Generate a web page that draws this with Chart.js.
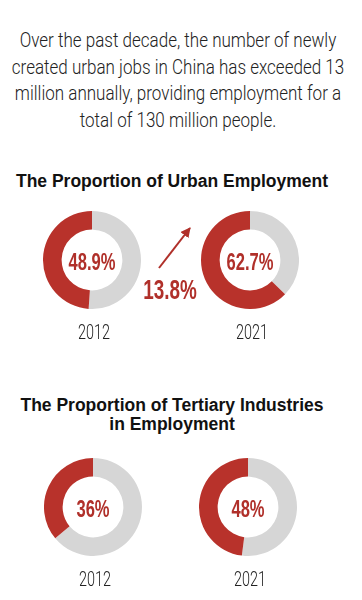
<!DOCTYPE html>
<html>
<head>
<meta charset="utf-8">
<script src="https://cdn.jsdelivr.net/npm/chart.js@4"></script>
<style>
  html, body { margin: 0; padding: 0; background: #fff; }
  #page { position: relative; width: 362px; height: 600px; overflow: hidden; }
  .abs { position: absolute; }
  .line {
    left: 178px; white-space: nowrap;
    font-family: Roboto, 'Liberation Sans', sans-serif; font-weight: 300;
    font-size: 20.5px; line-height: 26.5px; color: #222;
    transform: translateX(-50%) scaleX(0.83);
  }
  .title {
    left: -9px; width: 362px; text-align: center;
    font-family: 'Liberation Sans', Arial, sans-serif; font-weight: bold;
    font-size: 17.5px; line-height: 19px; color: #111;
  }
  .pct, .year {
    text-align: center; white-space: nowrap;
    font-family: 'Liberation Sans', Arial, sans-serif;
  }
  .pct { font-weight: bold; color: #b0302a; font-size: 23px; transform: translate(-50%, -50%) scaleX(0.72); }
  .big { font-size: 27px; transform: translate(-50%, -50%) scaleX(0.7); }
  .year { color: #222; font-size: 20px; font-family: Roboto, 'Liberation Sans', sans-serif; font-weight: 300; transform: translate(-50%, -50%) scaleX(0.72); }
  canvas { position: absolute; }
</style>
</head>
<body>
<div id="page">
  <div class="abs line" style="top:27px">Over the past decade, the number of newly</div>
  <div class="abs line" style="top:53.5px">created urban jobs in China has exceeded 13</div>
  <div class="abs line" style="top:80px">million annually, providing employment for a</div>
  <div class="abs line" style="top:106.5px">total of 130 million people.</div>
  <div class="abs title" style="top:172px">The Proportion of Urban Employment</div>
  <div class="abs title" style="top:396px">The Proportion of Tertiary Industries<br>in Employment</div>
  <svg class="abs" style="left:0;top:0" width="362" height="600">
    <defs>
      <marker id="head" viewBox="0 0 10 10" refX="9" refY="5" markerWidth="5" markerHeight="5" orient="auto">
        <path d="M0,0 L10,5 L0,10 z" fill="#b0302a"/>
      </marker>
    </defs>
    <line x1="159" y1="268" x2="190" y2="228" stroke="#b0302a" stroke-width="2" marker-end="url(#head)"/>
  </svg>
</div>
<script>
const urbanYears = ['2012', '2021'];
const urbanShare = [48.9, 62.7];
const urbanIncrease = 13.8;
const tertiaryYears = ['2012', '2021'];
const tertiaryShare = [36, 48];

const red = '#b8322b';
const grey = '#d6d6d6';
const page = document.getElementById('page');
const R = 49;

function addText(cls, text, x, y) {
  const d = document.createElement('div');
  d.className = 'abs ' + cls;
  d.style.left = x + 'px';
  d.style.top = y + 'px';
  d.textContent = text;
  page.appendChild(d);
}

function donut(value, cx, cy) {
  const c = document.createElement('canvas');
  c.width = R * 2;
  c.height = R * 2;
  c.style.left = (cx - R) + 'px';
  c.style.top = (cy - R) + 'px';
  page.appendChild(c);
  new Chart(c.getContext('2d'), {
    type: 'doughnut',
    data: {
      labels: ['other', 'share'],
      datasets: [{
        data: [100 - value, value],
        backgroundColor: [grey, red],
        borderWidth: 0
      }]
    },
    options: {
      responsive: false,
      animation: false,
      cutout: '62%',
      layout: { padding: 0 },
      plugins: { legend: { display: false }, tooltip: { enabled: false } }
    }
  });
}

const rows = [
  { years: urbanYears, share: urbanShare, xs: [92, 250], cy: 260, yearY: 332 },
  { years: tertiaryYears, share: tertiaryShare, xs: [93, 248], cy: 507, yearY: 579 }
];

rows.forEach(r => {
  r.share.forEach((v, i) => {
    donut(v, r.xs[i], r.cy);
    addText('pct', v + '%', r.xs[i], r.cy + 2);
    addText('year', r.years[i], r.xs[i] + 2, r.yearY);
  });
});

addText('pct big', urbanIncrease + '%', 170, 290);
</script>
</body>
</html>
